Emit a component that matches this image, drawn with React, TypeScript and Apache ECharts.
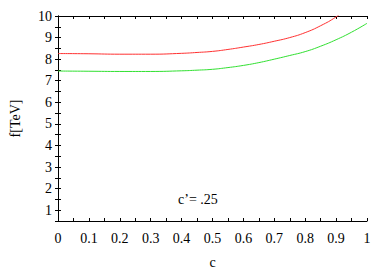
import React, { useEffect, useRef } from "react";
import * as echarts from "echarts";

const cRed = [0, 0.1, 0.2, 0.3, 0.4, 0.45, 0.5, 0.55, 0.6, 0.65, 0.7, 0.75, 0.8, 0.85, 0.9, 0.95];
const fRed = [8.26, 8.25, 8.23, 8.23, 8.27, 8.31, 8.36, 8.45, 8.56, 8.68, 8.83, 9.0, 9.23, 9.55, 9.96, 10.5];
const cGreen = [0, 0.1, 0.2, 0.3, 0.4, 0.45, 0.5, 0.55, 0.6, 0.65, 0.7, 0.75, 0.8, 0.85, 0.9, 0.95, 1.0];
const fGreen = [7.45, 7.44, 7.43, 7.43, 7.46, 7.49, 7.53, 7.61, 7.71, 7.84, 8.0, 8.17, 8.35, 8.6, 8.9, 9.25, 9.66];

const FONT = "Liberation Serif";

export default function App() {
  const ref = useRef<HTMLDivElement>(null);
  useEffect(() => {
    const chart = echarts.init(ref.current!, null, { renderer: "svg" });
    const axisLine = { show: true, lineStyle: { color: "#000", width: 1 } };
    const tick = { show: true, inside: true, length: 3, lineStyle: { color: "#000" } };
    const xFmt = (v: number) => {
      const r = Math.round(v * 100);
      if (r % 10 !== 0) return "";
      if (r === 0) return "0";
      if (r === 100) return "1";
      return (r / 100).toFixed(1);
    };
    const yFmt = (v: number) => (Math.abs(v - Math.round(v)) < 1e-6 ? String(Math.round(v)) : "");
    chart.setOption({
      animation: false,
      grid: { left: 56, right: 25, top: 16, bottom: 44 },
      xAxis: [
        {
          type: "value",
          min: 0,
          max: 1,
          interval: 0.05,
          position: "bottom",
          name: "c",
          nameLocation: "middle",
          nameGap: 34,
          nameTextStyle: { fontFamily: FONT, fontSize: 14, color: "#000" },
          axisLine,
          axisTick: tick,
          axisLabel: { formatter: xFmt, fontFamily: FONT, fontSize: 14, color: "#000", margin: 10 },
          splitLine: { show: false },
        },
        {
          type: "value",
          min: 0,
          max: 1,
          interval: 0.05,
          position: "top",
          axisLine,
          axisTick: tick,
          axisLabel: { show: false },
          splitLine: { show: false },
        },
      ],
      yAxis: [
        {
          type: "value",
          min: 0.5,
          max: 10,
          interval: 0.5,
          position: "left",
          name: "f[TeV]",
          nameLocation: "middle",
          nameGap: 36,
          nameRotate: 90,
          nameTextStyle: { fontFamily: FONT, fontSize: 14, color: "#000" },
          axisLine,
          axisTick: tick,
          axisLabel: { formatter: yFmt, fontFamily: FONT, fontSize: 14, color: "#000", margin: 6 },
          splitLine: { show: false },
        },
        {
          type: "value",
          min: 0.5,
          max: 10,
          interval: 0.5,
          position: "right",
          axisLine,
          axisTick: tick,
          axisLabel: { show: false },
          splitLine: { show: false },
        },
      ],
      series: [
        {
          type: "line",
          data: cRed.map((c, i) => [c, fRed[i]]),
          smooth: 0.5,
          showSymbol: false,
          clip: true,
          lineStyle: { color: "#ff3030", width: 1 },
        },
        {
          type: "line",
          data: cGreen.map((c, i) => [c, fGreen[i]]),
          smooth: 0.5,
          showSymbol: false,
          clip: true,
          lineStyle: { color: "#30e030", width: 1 },
        },
      ],
      graphic: [
        {
          type: "text",
          left: 178,
          top: 192,
          style: { text: "c\u2019= .25", fontFamily: FONT, fontSize: 14, fill: "#000" },
        },
      ],
    });
    return () => chart.dispose();
  }, []);
  return (
    <div
      ref={ref}
      style={{ position: "fixed", left: 0, top: 0, width: 392, height: 274, background: "#fff" }}
    />
  );
}
